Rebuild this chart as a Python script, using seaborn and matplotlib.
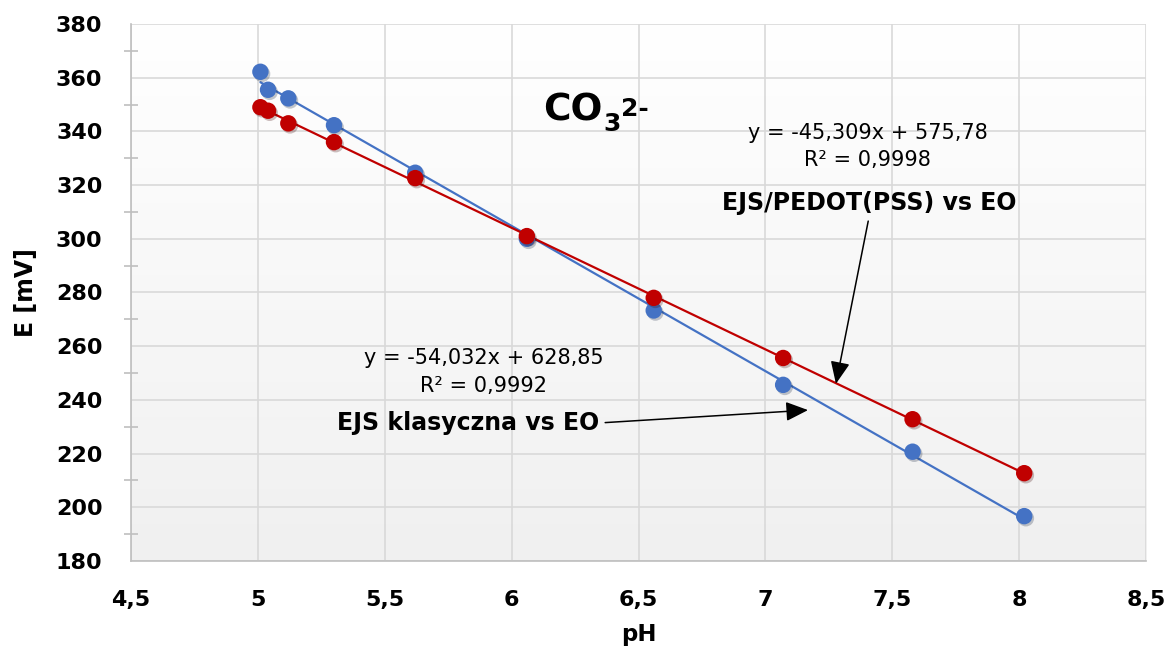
import numpy as np
import matplotlib
matplotlib.use('Agg')
import matplotlib.pyplot as plt
import matplotlib.patheffects as pe
from matplotlib.colors import LinearSegmentedColormap
import seaborn as sns

ph_classic = [5.01, 5.04, 5.12, 5.30, 5.62, 6.06, 6.56, 7.07, 7.58, 8.02]
e_classic = [362.2, 355.5, 352.3, 342.3, 324.6, 300.0, 273.3, 245.6, 220.7, 196.7]

ph_pedot = [5.01, 5.04, 5.12, 5.30, 5.62, 6.06, 6.56, 7.07, 7.58, 8.02]
e_pedot = [349.0, 347.7, 343.0, 336.0, 322.6, 301.0, 278.0, 255.6, 232.8, 212.7]

eq_classic = ['y = -54,032x + 628,85', 'R² = 0,9992']
eq_pedot = ['y = -45,309x + 575,78', 'R² = 0,9998']
label_classic = 'EJS klasyczna vs EO'
label_pedot = 'EJS/PEDOT(PSS) vs EO'

x_ticks = [4.5, 5, 5.5, 6, 6.5, 7, 7.5, 8, 8.5]
y_ticks = list(range(180, 381, 20))

sns.set_theme(style='white')
plt.rcParams['font.family'] = ['DejaVu Sans']
plt.rcParams['text.color'] = 'black'
plt.rcParams['axes.labelcolor'] = 'black'

fig = plt.figure(figsize=(11.76, 6.52), dpi=100)
ax = fig.add_axes([0.1114, 0.1396, 0.8631, 0.8236])

# gradient background of plot area
grad = np.linspace(0, 1, 256).reshape(-1, 1)
cmap = LinearSegmentedColormap.from_list('bg', ['#f0f0f0', '#ffffff'])
ax.imshow(grad, cmap=cmap, extent=[4.5, 8.5, 180, 380], origin='lower',
          aspect='auto', zorder=-1)

shadow = [pe.SimplePatchShadow(offset=(1.2, -1.5), alpha=0.25), pe.Normal()]
blue = '#4472C4'
red = '#C00000'

sns.regplot(x=ph_classic, y=e_classic, ax=ax, ci=None, truncate=True,
            color=blue,
            scatter_kws={'s': 140, 'alpha': 1, 'linewidths': 0, 'zorder': 3,
                         'path_effects': shadow},
            line_kws={'lw': 1.6, 'zorder': 2})
sns.regplot(x=ph_pedot, y=e_pedot, ax=ax, ci=None, truncate=True,
            color=red,
            scatter_kws={'s': 140, 'alpha': 1, 'linewidths': 0, 'zorder': 4,
                         'path_effects': shadow},
            line_kws={'lw': 1.6, 'zorder': 2})

ax.set_xlim(4.5, 8.5)
ax.set_ylim(180, 380)
ax.set_xticks(x_ticks)
ax.set_xticklabels([str(t).replace('.', ',') for t in x_ticks])
ax.set_yticks(y_ticks)
ax.set_yticks(range(190, 380, 20), minor=True)

ax.grid(True, which='major', color='#d9d9d9', lw=1.2)
ax.set_axisbelow(True)
for s in ['top', 'right']:
    ax.spines[s].set_visible(False)
for s in ['left', 'bottom']:
    ax.spines[s].set_color('#bfbfbf')
    ax.spines[s].set_linewidth(1.2)

ax.tick_params(axis='y', which='major', direction='inout', length=15,
               width=1.2, color='#bfbfbf', pad=13)
ax.tick_params(axis='y', which='minor', direction='inout', length=10,
               width=1.2, color='#bfbfbf', left=True)
ax.tick_params(axis='x', which='major', direction='out', length=8,
               width=1.2, color='#bfbfbf', pad=13)
for lbl in ax.get_xticklabels() + ax.get_yticklabels():
    lbl.set_fontweight('bold')
    lbl.set_fontsize(16)
    lbl.set_color('black')

ax.set_xlabel('pH', fontsize=16.5, fontweight='bold', labelpad=9)
ax.set_ylabel('E [mV]', fontsize=17, fontweight='bold', labelpad=13)

# ion label CO3 2-
co = ax.text(6.124, 344.2, 'CO', fontsize=27, fontweight='bold',
             ha='left', va='baseline')
sub = ax.annotate('3', xy=(1, 0), xycoords=co, xytext=(0.5, 3),
                  textcoords='offset points', fontsize=18, fontweight='bold',
                  ha='left', va='center')
ax.annotate('2-', xy=(1, 1), xycoords=(sub, co), xytext=(0.5, -3.5),
            textcoords='offset points', fontsize=18, fontweight='bold',
            ha='left', va='top')

# trendline equations
ax.text(7.404, 339.4, eq_pedot[0], fontsize=15, ha='center', va='center')
ax.text(7.404, 329.3, eq_pedot[1], fontsize=15, ha='center', va='center')
ax.text(5.89, 255.6, eq_classic[0], fontsize=15, ha='center', va='center')
ax.text(5.89, 245.2, eq_classic[1], fontsize=15, ha='center', va='center')

arrow = dict(arrowstyle='-|>,head_length=0.8,head_width=0.35', color='black',
             lw=1.1, shrinkA=2, shrinkB=0)
ax.annotate(label_pedot, xy=(7.278, 246.0), xytext=(7.41, 313.3),
            fontsize=17, fontweight='bold', ha='center', va='center',
            arrowprops=dict(arrow, relpos=(0.5, 0)))
ax.annotate(label_classic, xy=(7.168, 236.2), xytext=(5.828, 231.4),
            fontsize=17, fontweight='bold', ha='center', va='center',
            arrowprops=dict(arrow, relpos=(1, 0.5)))

fig.savefig('out.png', dpi=100)
